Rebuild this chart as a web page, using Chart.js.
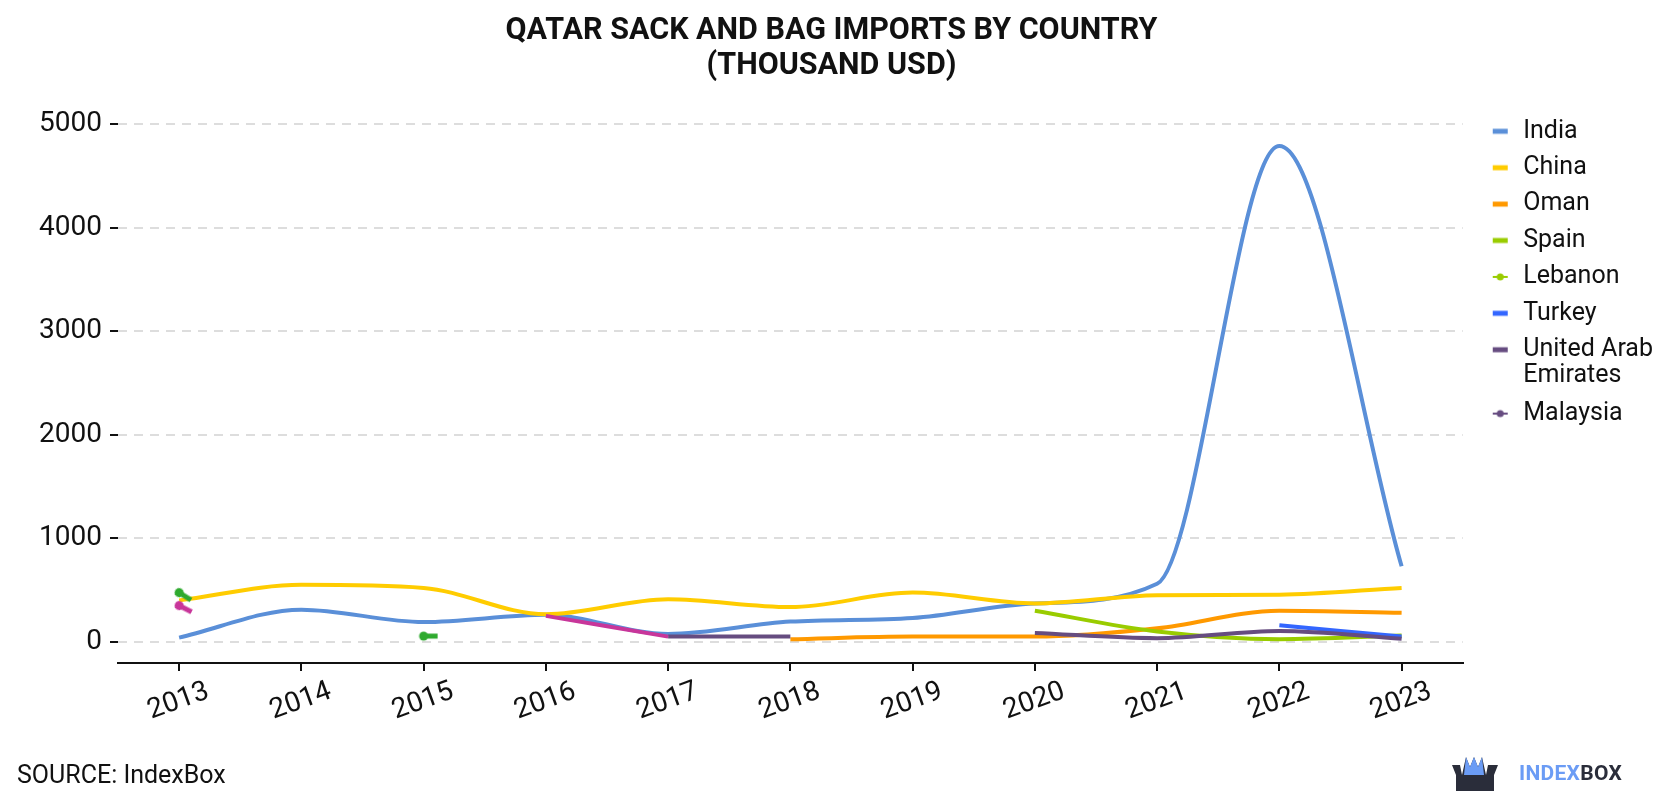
<!DOCTYPE html>
<html>
<head>
<meta charset="utf-8">
<script src="https://cdn.jsdelivr.net/npm/chart.js@4.4.0/dist/chart.umd.min.js"></script>
<style>
  body { margin: 0; background: #fff; font-family: Roboto, sans-serif; }
  #wrap { position: relative; width: 1680px; height: 800px; }
  #source { position: absolute; left: 17px; top: 760px; font-size: 25px; color: #111; }
  #logo { position: absolute; left: 1450px; top: 753px; height: 40px; display: flex; align-items: center; }
  #logo .txt { font-weight: 700; font-size: 21px; margin-left: 19px; letter-spacing: 0.3px; }
</style>
</head>
<body>
<div id="wrap">
  <canvas id="chart"></canvas>
  <div id="source">SOURCE: IndexBox</div>
  <div id="logo">
    <svg width="50" height="40" viewBox="0 0 50 40">
      <path d="M2 12 L10 12 L12 22 L16 4 L20 14 L24 4 L28 14 L32 4 L36 22 L38 12 L48 12 L44 22 L44 38 L6 38 L6 22 Z" fill="#2a2d3a"/>
      <path d="M16 4 L20 14 L24 4 L28 14 L32 4 L34 22 L14 22 Z" fill="#6b9cf5"/>
    </svg>
    <span class="txt"><span style="color:#6b9cf5">INDEX</span><span style="color:#2a2d3a">BOX</span></span>
  </div>
</div>
<script>
// values (thousand USD)
const years = ["2013", "2014", "2015", "2016", "2017", "2018", "2019", "2020", "2021", "2022", "2023"];
const india = [40, 310, 190, 260, 75, 195, 230, 370, 560, 4790, 730];
const china = [400, 550, 520, 265, 410, 335, 475, 370, 450, 455, 520];
const oman = [null, null, null, null, null, 25, 50, 50, 130, 300, 280];
const spain = [null, null, null, null, null, null, null, 300, 100, 25, 60];
const lebanon = [475, null, 55, null, null, null, null, null, null, null, null];
const turkey = [null, null, null, null, null, null, null, null, null, 160, 50];
const uae = [null, null, null, null, 50, 50, null, 85, 35, 105, 30];
const malaysia = [350, null, null, 250, 50, null, null, null, null, null, null];
const yTicks = [0, 1000, 2000, 3000, 4000, 5000];

const canvas = document.getElementById("chart");
canvas.width = 1680;
canvas.height = 800;

// legend markers: short thick line, or thin line with a dot
function marker(color, dot) {
  const c = document.createElement("canvas");
  c.width = 17; c.height = 10;
  const g = c.getContext("2d");
  g.fillStyle = color;
  if (dot) {
    g.fillRect(1, 4, 15, 2);
    g.beginPath(); g.arc(8.5, 5, 3.5, 0, Math.PI * 2); g.fill();
  } else {
    g.fillRect(1, 2.5, 15, 5);
  }
  return c;
}

// stub for a year with no neighbour: dot on the value, short dash to the right
function stub(color) {
  const c = document.createElement("canvas");
  c.width = 36; c.height = 12;
  const g = c.getContext("2d");
  g.fillStyle = color;
  g.fillRect(18, 3.5, 14, 5);
  g.beginPath(); g.arc(18, 6, 4.5, 0, Math.PI * 2); g.fill();
  return c;
}

function series(label, data, color, legendColor, dot) {
  return {
    label: label,
    data: data,
    borderColor: color,
    backgroundColor: color,
    borderWidth: 4,
    cubicInterpolationMode: "monotone",
    pointRadius: 0,
    fill: false,
    spanGaps: false,
    legendMarker: marker(legendColor, dot)
  };
}

function lone(ds, angles) {
  const img = stub(ds.borderColor);
  ds.pointStyle = ds.data.map(() => img);
  ds.pointRadius = ds.data.map((v, i) => angles[i] !== undefined ? 6 : 0);
  ds.pointRotation = ds.data.map((v, i) => angles[i] || 0);
  return ds;
}

const datasets = [
  series("India", india, "#5a8fd8", "#5a8fd8"),
  series("China", china, "#ffcc00", "#ffcc00"),
  series("Oman", oman, "#ff9900", "#ff9900"),
  series("Spain", spain, "#99cc00", "#99cc00"),
  lone(series("Lebanon", lebanon, "#2eaa2e", "#99cc00", true), {0: 32, 2: 0}),
  series("Turkey", turkey, "#3366ff", "#3366ff"),
  series("United Arab Emirates", uae, "#664c80", "#664c80"),
  lone(series("Malaysia", malaysia, "#c8369a", "#664c80", true), {0: 27})
];
// later series are painted over earlier ones
datasets.forEach((ds, i) => { ds.order = -i; });

new Chart(canvas, {
  type: "line",
  data: { labels: years, datasets: datasets },
  options: {
    responsive: false,
    animation: false,
    layout: { padding: { left: 0, right: 17, bottom: 68, top: 0 } },
    plugins: {
      title: {
        display: true,
        text: ["QATAR SACK AND BAG IMPORTS BY COUNTRY", "(THOUSAND USD)"],
        color: "#111",
        font: { family: "Roboto", size: 30.5, weight: "bold", lineHeight: 1.15 },
        padding: { top: 14, bottom: 40 }
      },
      legend: {
        position: "right",
        align: "start",
        title: { display: true, text: " ", font: { size: 2 }, padding: { top: 105, bottom: 0 } },
        labels: {
          usePointStyle: true,
          pointStyleWidth: 21,
          color: "#111",
          font: { family: "Roboto", size: 25, lineHeight: 1.05 },
          padding: 11.4,
          generateLabels: function (chart) {
            return chart.data.datasets.map((ds, i) => ({
              text: ds.label === "United Arab Emirates" ? ["United Arab", "Emirates"] : ds.label,
              pointStyle: ds.legendMarker,
              fillStyle: ds.borderColor,
              strokeStyle: ds.borderColor,
              fontColor: "#111",
              lineWidth: 0,
              hidden: false,
              datasetIndex: i
            }));
          }
        }
      },
      tooltip: { enabled: false }
    },
    scales: {
      x: {
        offset: true,
        afterFit: function (axis) { axis.paddingLeft = 0; axis.paddingRight = 0; },
        grid: { display: true, drawOnChartArea: false, offset: false, color: "#111", tickLength: 8, lineWidth: 2 },
        border: { display: true, color: "#111", width: 2 },
        ticks: { color: "#111", font: { family: "Roboto", size: 28 }, minRotation: 20, maxRotation: 20, padding: 4, labelOffset: 29 }
      },
      y: {
        min: -204,
        max: 5000,
        afterBuildTicks: function (axis) {
          axis.ticks = yTicks.map(v => ({ value: v }));
        },
        afterFit: function (axis) { axis.width = 118; },
        grid: { color: "#dddddd", lineWidth: 2, drawTicks: true, tickLength: 8, tickColor: "#111" },
        border: { display: false, dash: [9, 7] },
        ticks: { color: "#111", font: { family: "Roboto", size: 28 }, padding: 8, callback: v => String(v) }
      },
      // empty strip that keeps the legend clear of the plot
      gap: {
        position: "right",
        display: true,
        afterFit: function (axis) { axis.width = 15.6; },
        grid: { display: false },
        ticks: { display: false },
        border: { display: false }
      }
    }
  }
});
</script>
</body>
</html>
